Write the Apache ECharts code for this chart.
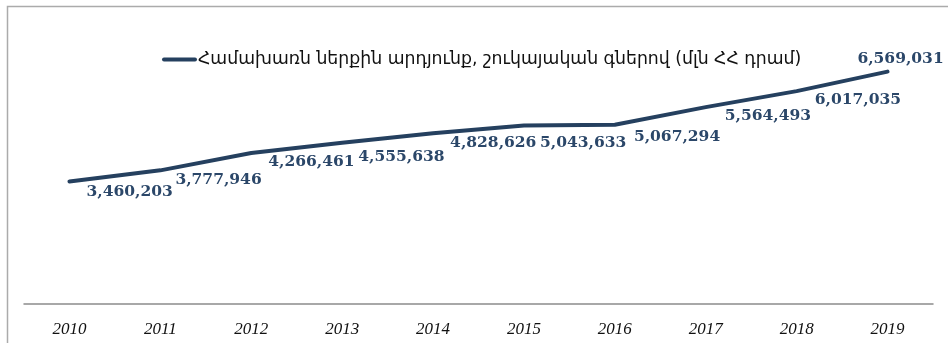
<!DOCTYPE html>
<html>
<head>
<meta charset="utf-8">
<script src="https://cdn.jsdelivr.net/npm/echarts@6/dist/echarts.min.js"></script>
<style>
  html, body { margin: 0; padding: 0; background: #fff; }
  #chart { width: 948px; height: 343px; }
</style>
</head>
<body>
<div id="chart"></div>
<script>
// GDP at market prices, million AMD
const years = ['2010', '2011', '2012', '2013', '2014', '2015', '2016', '2017', '2018', '2019'];
const gdp = [3460203, 3777946, 4266461, 4555638, 4828626, 5043633, 5067294, 5564493, 6017035, 6569031];
const seriesName = 'Համախառն ներքին արդյունք, շուկայական գներով (մլն ՀՀ դրամ)';

// per-point label placement [dx, dy] relative to the point
const labelOffsets = [[12, 10], [10, 10], [12, 9], [11, 14], [12, 10], [11, 17], [14, 12], [14, 9], [13, 9], [13, 0]];

const lineColor = '#25405f';
const labelColor = '#2b4769';

const data = gdp.map((v, i) => {
  const last = i === gdp.length - 1;
  return {
    value: v,
    label: last
      ? { position: 'top', distance: 5, offset: labelOffsets[i] }
      : { position: 'right', distance: 5, offset: labelOffsets[i], align: 'left', verticalAlign: 'middle' }
  };
});

const chart = echarts.init(document.getElementById('chart'), null, { renderer: 'canvas' });
chart.setOption({
  animation: false,
  graphic: [{
    type: 'rect',
    shape: { x: 7.5, y: 6.5, width: 1000, height: 400 },
    style: { fill: 'none', stroke: '#ababab', lineWidth: 1.5 },
    silent: true
  }],
  legend: {
    data: [seriesName],
    top: 46,
    left: 157,
    itemWidth: 35,
    itemHeight: 14,
    itemGap: 10,
    icon: 'path://M2,5 L33,5 A2,2 0 0 1 33,9 L2,9 A2,2 0 0 1 2,5 Z',
    textStyle: { fontFamily: 'DejaVu Sans', fontSize: 17.3, color: '#111', padding: [0, 0, 0, -4] }
  },
  grid: { left: 24, right: 15, top: 21, bottom: 39 },
  xAxis: {
    type: 'category',
    data: years,
    boundaryGap: true,
    axisLine: { show: true, lineStyle: { color: '#8c8c8c', width: 1.5 } },
    axisTick: { show: false },
    axisLabel: {
      margin: 17,
      fontFamily: 'Liberation Serif',
      fontStyle: 'italic',
      fontSize: 17,
      color: '#111'
    }
  },
  yAxis: {
    type: 'value',
    min: 0,
    max: 8000000,
    show: false,
    splitLine: { show: false }
  },
  series: [{
    name: seriesName,
    type: 'line',
    data: data,
    symbol: 'circle',
    symbolSize: 0.1,
    showSymbol: true,
    itemStyle: { color: lineColor },
    lineStyle: { color: lineColor, width: 4, cap: 'round', join: 'round' },
    label: {
      show: true,
      fontFamily: 'DejaVu Serif',
      fontWeight: 'bold',
      fontSize: 15.5,
      color: labelColor,
      formatter: p => p.value.toLocaleString('en-US')
    },
    emphasis: { disabled: true }
  }]
});
</script>
</body>
</html>
